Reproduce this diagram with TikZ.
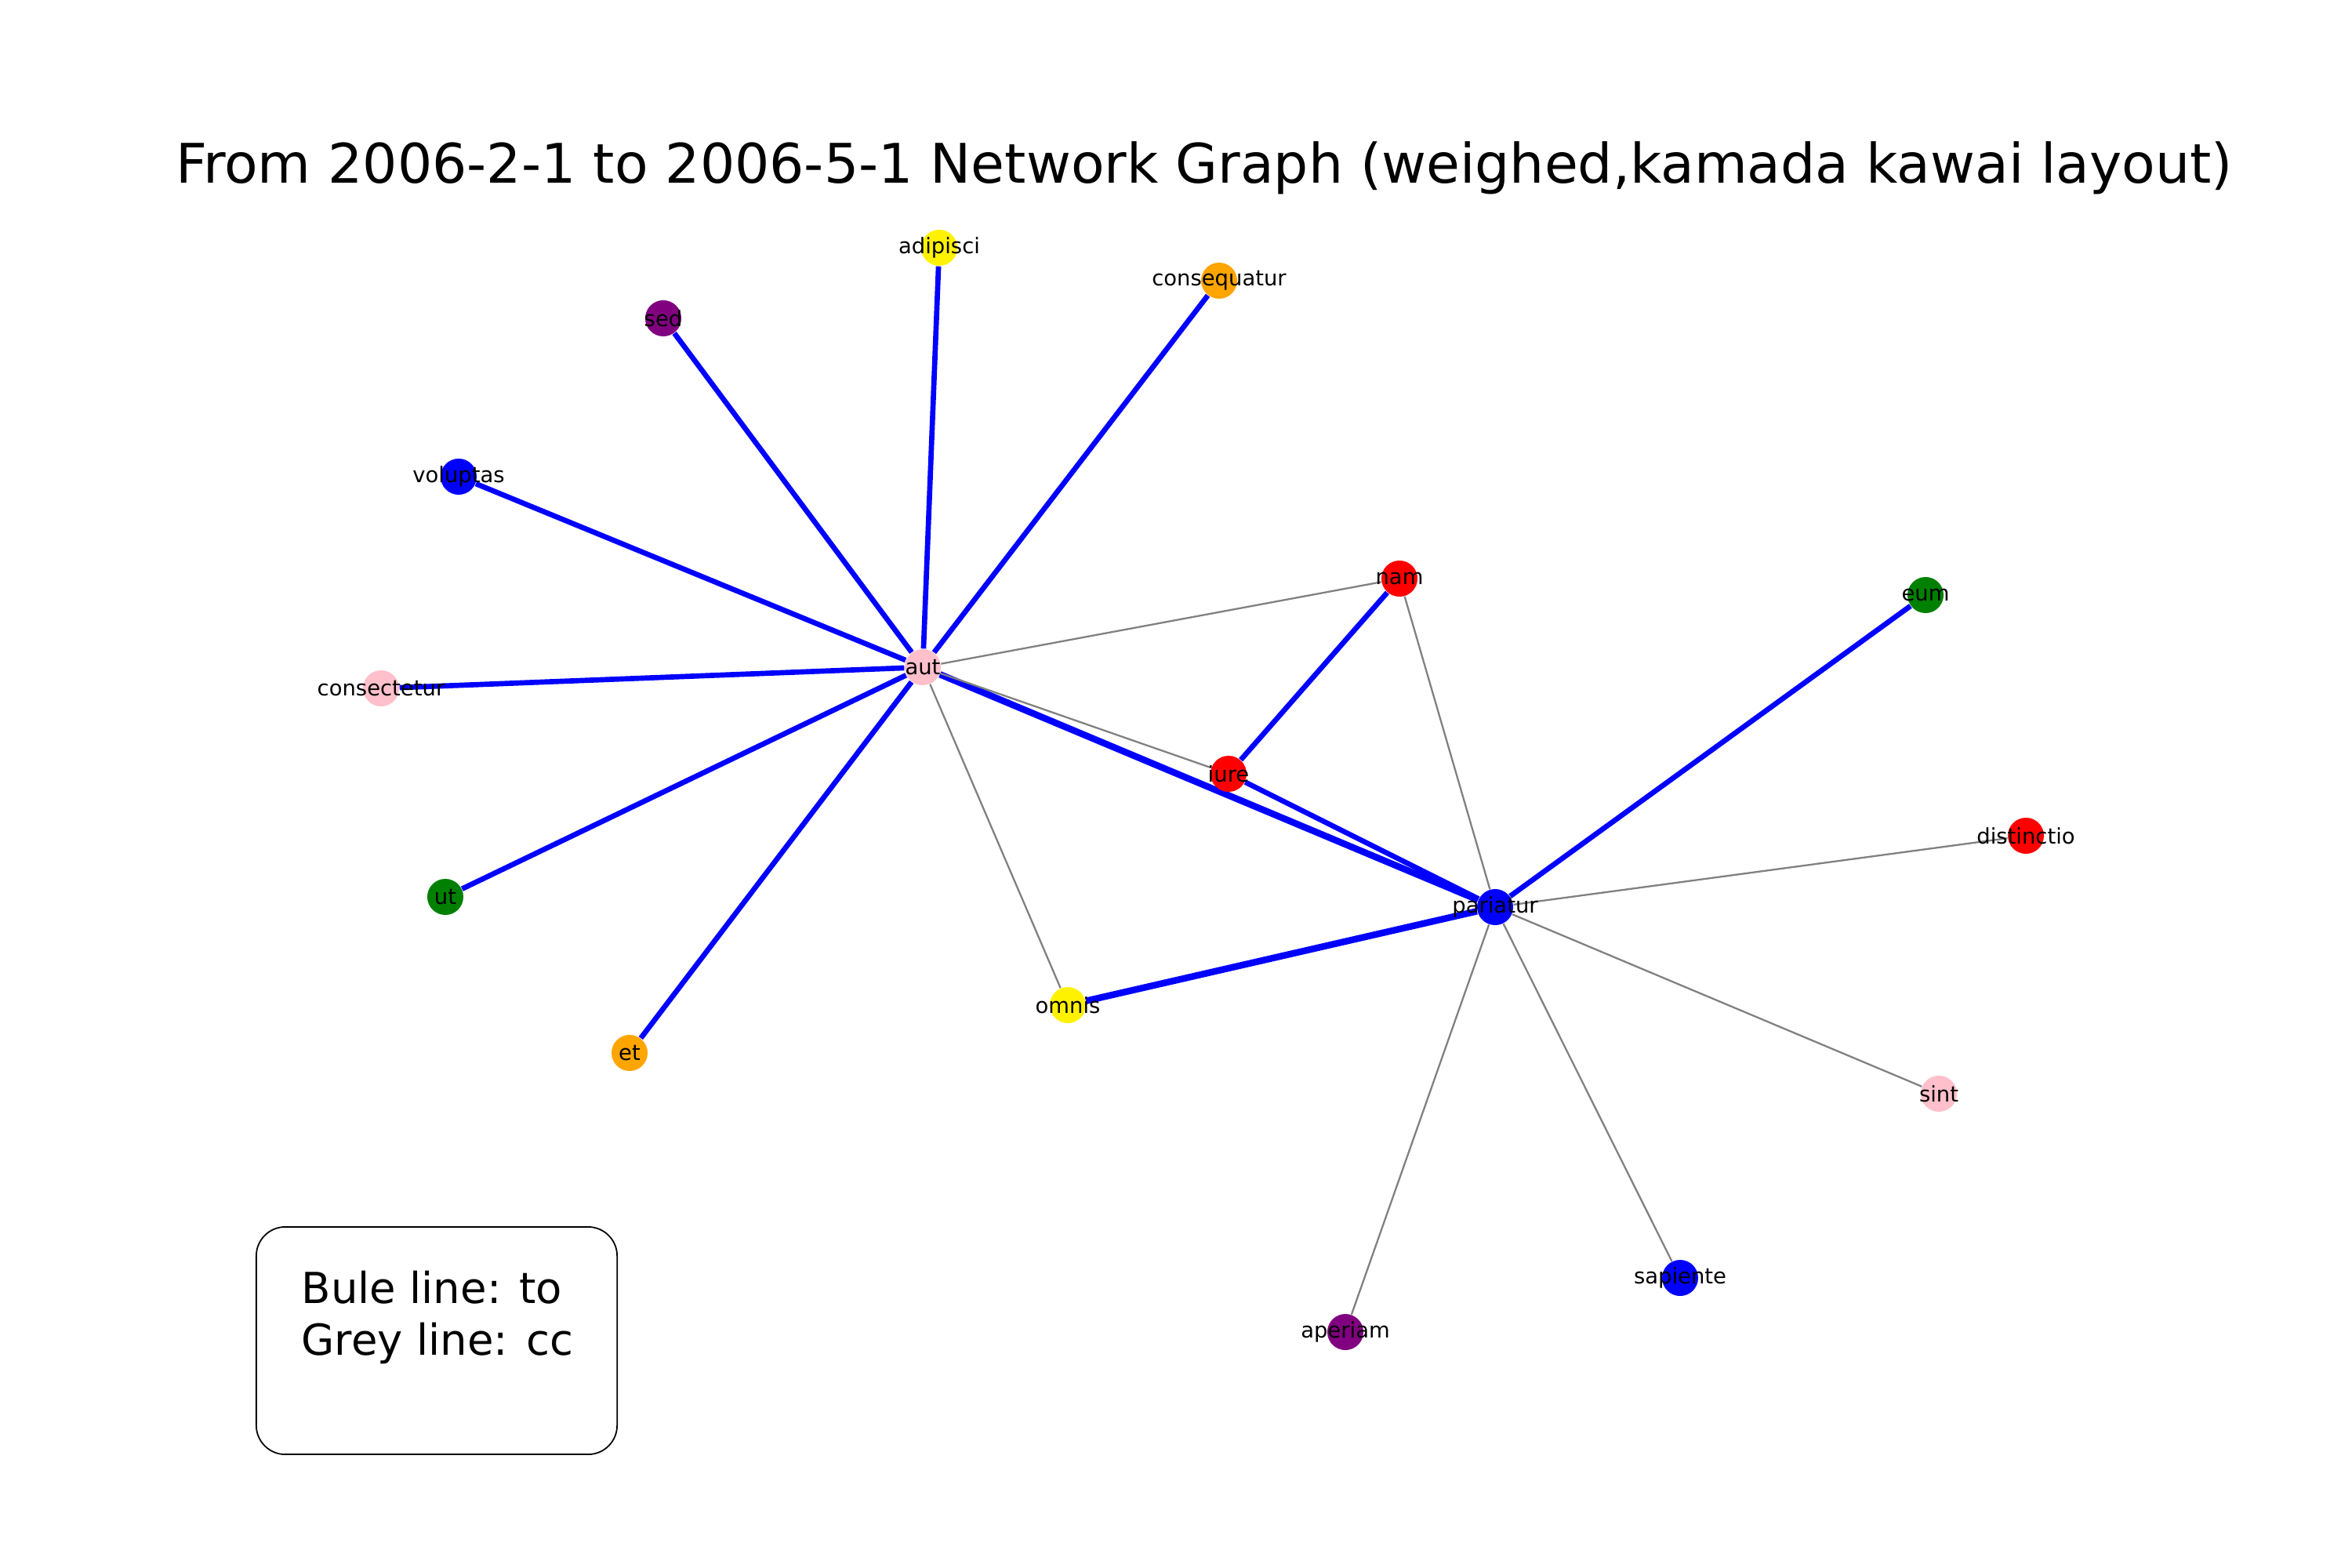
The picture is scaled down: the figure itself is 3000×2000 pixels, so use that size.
\documentclass[tikz,border=0pt]{standalone}
\usepackage{fontspec}
\setmainfont{DejaVu Sans}
\usetikzlibrary{backgrounds}
\definecolor{mplpurple}{HTML}{800080}
\definecolor{mplorange}{HTML}{FFA500}
\definecolor{mplgreen}{HTML}{008000}
\definecolor{mplpink}{HTML}{FFC0CB}

\begin{document}
\begin{tikzpicture}[
    x=0.01cm, y=-0.01cm,
    vert/.style={circle, fill=#1, minimum size=0.46cm, inner sep=0pt},
    tag/.style={font=\fontsize{7.8}{9}\selectfont},
    to/.style={blue, line width=1.9pt},
    cc/.style={gray, line width=0.65pt}
]
\useasboundingbox (0,0) rectangle (3000,2000);
\node[anchor=base, font=\fontsize{19.8}{24}\selectfont] (title) at (1536,233) {From 2006-2-1 to 2006-5-1 Network Graph (weighed,kamada kawai layout)};

\node[vert=mplpink, label={[tag]center:aut}] (aut) at (1177,851) {};
\node[vert=yellow, label={[tag]center:adipisci}] (adipisci) at (1198,316) {};
\node[vert=mplorange, label={[tag]center:consequatur}] (consequatur) at (1555,358) {};
\node[vert=mplpurple, label={[tag]center:sed}] (sed) at (846,406) {};
\node[vert=blue, label={[tag]center:voluptas}] (voluptas) at (585,608) {};
\node[vert=mplpink, label={[tag]center:consectetur}] (consectetur) at (486,878) {};
\node[vert=mplgreen, label={[tag]center:ut}] (ut) at (568,1144) {};
\node[vert=mplorange, label={[tag]center:et}] (et) at (803,1343) {};
\node[vert=red, label={[tag]center:nam}] (nam) at (1785,738) {};
\node[vert=mplgreen, label={[tag]center:eum}] (eum) at (2456,759) {};
\node[vert=red, label={[tag]center:iure}] (iure) at (1567,987) {};
\node[vert=red, label={[tag]center:distinctio}] (distinctio) at (2584,1066) {};
\node[vert=blue, label={[tag]center:pariatur}] (pariatur) at (1907,1157) {};
\node[vert=yellow, label={[tag]center:omnis}] (omnis) at (1362,1282) {};
\node[vert=mplpink, label={[tag]center:sint}] (sint) at (2473,1395) {};
\node[vert=blue, label={[tag]center:sapiente}] (sapiente) at (2143,1630) {};
\node[vert=mplpurple, label={[tag]center:aperiam}] (aperiam) at (1716,1699) {};

\begin{scope}[on background layer]
\foreach \n in {adipisci, consequatur, sed, voluptas, consectetur, ut, et}
    \draw[to] (aut) -- (\n);
\draw[to, line width=2.4pt] (aut) -- (pariatur);
\draw[to, line width=2.4pt] (pariatur) -- (omnis);
\draw[to] (iure) -- (nam);
\draw[to] (iure) -- (pariatur);
\draw[to] (pariatur) -- (eum);
\draw[cc] (aut) -- (nam);
\draw[cc] (aut) -- (iure);
\draw[cc] (aut) -- (omnis);
\draw[cc] (nam) -- (pariatur);
\foreach \n in {distinctio, sint, sapiente, aperiam}
    \draw[cc] (pariatur) -- (\n);
\end{scope}

% legend
\node[draw, rounded corners=0.37cm, minimum width=4.6cm, minimum height=2.9cm, line width=0.5pt] (key) at (557,1710) {};
\node[anchor=north west, align=left, inner sep=0pt, font=\fontsize{15.5}{19}\selectfont] (keytext) at (384,1620) {Bule line: to\\Grey line: cc};
\end{tikzpicture}
\end{document}
